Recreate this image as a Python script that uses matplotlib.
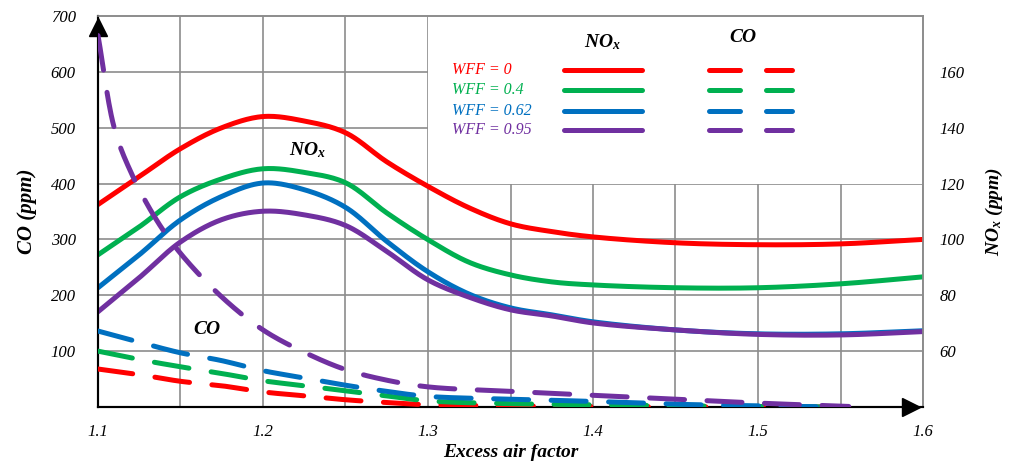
# Package Import
import numpy as np
import matplotlib
import matplotlib.pyplot as plt
from matplotlib.patches import Rectangle

# Settings
matplotlib.use('Agg')
plt.rcParams['font.family'] = 'Liberation Serif'
plt.rcParams['mathtext.fontset'] = 'custom'
plt.rcParams['mathtext.rm'] = 'Liberation Serif:italic:bold'
plt.rcParams['mathtext.it'] = 'Liberation Serif:italic:bold'

# Data
wff_labels = ['WFF = 0', 'WFF = 0.4', 'WFF = 0.62', 'WFF = 0.95']
colors = ['#FF0000', '#00B050', '#0070C0', '#7030A0']

x_ticks = [1.1, 1.2, 1.3, 1.4, 1.5, 1.6]
x_tick_labels = ['1.1', '1.2', '1.3', '1.4', '1.5', '1.6']
co_ticks = [100, 200, 300, 400, 500, 600, 700]
nox_ticks = [60, 80, 100, 120, 140, 160]

nox_x = [1.10, 1.125, 1.15, 1.175, 1.20, 1.225, 1.25, 1.275, 1.30, 1.325,
         1.35, 1.375, 1.40, 1.45, 1.50, 1.55, 1.60]
nox_wff_0 = [112.5, 122.5, 132.5, 140.0, 144.0, 142.4, 138.2, 127.8, 119.0,
             111.3, 105.6, 102.8, 100.9, 98.8, 98.1, 98.4, 100.0]
nox_wff_04 = [94.5, 104.5, 115.3, 121.7, 125.3, 124.0, 120.3, 109.5, 99.9,
              91.8, 87.3, 84.8, 83.7, 82.7, 82.7, 84.1, 86.6]
nox_wff_062 = [82.7, 94.5, 107.0, 115.4, 120.2, 117.8, 111.5, 99.3, 88.4,
               80.4, 75.5, 73.0, 70.5, 67.6, 66.2, 66.2, 67.3]
nox_wff_095 = [74.1, 86.3, 99.1, 107.1, 110.1, 108.8, 105.0, 95.7, 85.5,
               79.3, 74.8, 72.6, 70.1, 67.6, 66.0, 65.8, 67.0]

co_x = [1.10, 1.125, 1.15, 1.175, 1.20, 1.225, 1.25, 1.275, 1.30, 1.35,
        1.40, 1.45, 1.50, 1.55]
co_wff_0 = [68, 58, 46, 38, 27, 20, 13, 8, 4, 2, 1, 0.5, 0, 0]
co_wff_04 = [100, 85, 72, 60, 47, 38, 29, 20, 11, 6, 4, 2, 1, 0]
co_wff_062 = [136, 116, 97, 83, 65, 52, 39, 28, 19, 14, 10, 5, 2, 0]
co_x_095 = [1.10, 1.11, 1.12, 1.135, 1.15, 1.175, 1.20, 1.225, 1.25, 1.275,
            1.30, 1.35, 1.40, 1.45, 1.50, 1.555]
co_wff_095 = [665, 498, 420, 337, 275, 197, 138, 98, 67, 48, 36, 28, 21, 14, 7, 1]

nox_series = [nox_wff_0, nox_wff_04, nox_wff_062, nox_wff_095]
co_series = [(co_x, co_wff_0), (co_x, co_wff_04), (co_x, co_wff_062),
             (co_x_095, co_wff_095)]


# Function definitions
def smooth_line(xs, ys, xlim, ylim, n=24, alpha=0.5):

    """
    Centripetal Catmull-Rom curve through the given points, like a
    spreadsheet 'smoothed line'. Works in axes-normalised space.
    """

    sx = xlim[1] - xlim[0]
    sy = (ylim[1] - ylim[0]) * 825 / 391
    P = np.column_stack([(np.asarray(xs) - xlim[0]) / sx,
                         (np.asarray(ys) - ylim[0]) / sy])
    P = np.vstack([2 * P[0] - P[1], P, 2 * P[-1] - P[-2]])
    out = []
    for i in range(len(P) - 3):
        p0, p1, p2, p3 = P[i:i + 4]
        t0 = 0.0
        t1 = t0 + np.linalg.norm(p1 - p0) ** alpha
        t2 = t1 + np.linalg.norm(p2 - p1) ** alpha
        t3 = t2 + np.linalg.norm(p3 - p2) ** alpha
        t = np.linspace(t1, t2, n)[:, None]
        A1 = (t1 - t) / (t1 - t0) * p0 + (t - t0) / (t1 - t0) * p1
        A2 = (t2 - t) / (t2 - t1) * p1 + (t - t1) / (t2 - t1) * p2
        A3 = (t3 - t) / (t3 - t2) * p2 + (t - t2) / (t3 - t2) * p3
        B1 = (t2 - t) / (t2 - t0) * A1 + (t - t0) / (t2 - t0) * A2
        B2 = (t3 - t) / (t3 - t1) * A2 + (t - t1) / (t3 - t1) * A3
        C = (t2 - t) / (t2 - t1) * B1 + (t - t1) / (t2 - t1) * B2
        out.append(C if i == 0 else C[1:])
    C = np.vstack(out)
    return C[:, 0] * sx + xlim[0], C[:, 1] * sy + ylim[0]


# Create the figure
fig = plt.figure(figsize=(10.13, 4.65), dpi=100)
ax = fig.add_axes([98 / 1013, 58 / 465, 825 / 1013, 391 / 465])
ax2 = ax.twinx()

# NOx axis on the right, CO axis on the left
ax.yaxis.tick_right()
ax.yaxis.set_label_position('right')
ax2.yaxis.tick_left()
ax2.yaxis.set_label_position('left')

xlim = (1.1, 1.6)
nox_lim = (40, 180)
co_lim = (0, 700)
ax.set_xlim(*xlim)
ax.set_ylim(*nox_lim)
ax2.set_ylim(*co_lim)

ax.set_xticks(x_ticks)
ax.set_xticklabels(x_tick_labels)
ax.set_xticks([1.15, 1.25, 1.35, 1.45, 1.55], minor=True)
ax.set_yticks(nox_ticks)
ax2.set_yticks(co_ticks)

for lab in ax.get_xticklabels() + ax.get_yticklabels() + ax2.get_yticklabels():
    lab.set_fontstyle('italic')
    lab.set_fontsize(12)
ax.tick_params(axis='x', which='both', length=0, pad=12)
ax.tick_params(axis='y', length=0, pad=12)
ax2.tick_params(axis='y', length=0, pad=16)

# Grid
ax.set_axisbelow(True)
ax.grid(True, which='both', color='#8c8c8c', linewidth=1.2)

# Spines
for a in (ax, ax2):
    a.spines['left'].set_color('black')
    a.spines['bottom'].set_color('black')
    a.spines['left'].set_linewidth(1.5)
    a.spines['bottom'].set_linewidth(1.5)
    a.spines['top'].set_color('#8c8c8c')
    a.spines['right'].set_color('#8c8c8c')
    a.spines['top'].set_linewidth(1.2)
    a.spines['right'].set_linewidth(1.2)

# Axis arrows
ax.plot([0], [0.972], marker='^', markersize=13, color='black',
        transform=ax.transAxes, clip_on=False, zorder=6)
ax.plot([0.986], [0], marker='>', markersize=13, color='black',
        transform=ax.transAxes, clip_on=False, zorder=6)

# Legend background box
ax.add_patch(Rectangle((1.30, 120), 0.30, 60, facecolor='white',
                       edgecolor='none', zorder=1))

# NOx curves
for vals, c in zip(nox_series, colors):
    sx, sy = smooth_line(nox_x, vals, xlim, nox_lim)
    ax.plot(sx, sy, color=c, linewidth=3.6, solid_capstyle='round',
            solid_joinstyle='round', zorder=3)

# CO curves
for (xs, vals), c in zip(co_series, colors):
    sx, sy = smooth_line(xs, vals, xlim, co_lim)
    ax2.plot(sx, sy, color=c, linewidth=3.6, linestyle=(0, (7, 4.5)),
             dash_capstyle='round', zorder=3)

# Legend entries
label_font = dict(family='Liberation Serif', fontstyle='italic',
                  fontweight='bold')
row_y = [0.862, 0.811, 0.757, 0.708]
for lab, c, fy in zip(wff_labels, colors, row_y):
    ax.text(0.429, fy, lab, color=c, fontsize=11.5, fontstyle='italic',
            ha='left', va='center', transform=ax.transAxes, zorder=5)
    ax.plot([0.565, 0.659], [fy, fy], color=c, linewidth=3.6,
            solid_capstyle='round', transform=ax.transAxes, zorder=5)
    ax.plot([0.740, 0.778], [fy, fy], color=c, linewidth=3.6,
            solid_capstyle='round', transform=ax.transAxes, zorder=5)
    ax.plot([0.810, 0.841], [fy, fy], color=c, linewidth=3.6,
            solid_capstyle='round', transform=ax.transAxes, zorder=5)
ax.text(0.611, 0.934, 'NO$_x$', fontsize=14, ha='center', va='center',
        transform=ax.transAxes, zorder=5, **label_font)
ax.text(0.782, 0.944, 'CO', fontsize=14, ha='center', va='center',
        transform=ax.transAxes, zorder=5, **label_font)

# Curve annotations
ax.text(1.227, 132, 'NO$_x$', fontsize=14, ha='center', va='center',
        zorder=5, **label_font)
ax2.text(1.166, 138, 'CO', fontsize=14, ha='center', va='center',
         zorder=5, **label_font)

# Axis labels
ax.set_xlabel('Excess air factor', fontsize=14, labelpad=3, **label_font)
ax2.set_ylabel('CO (ppm)', fontsize=15, labelpad=10, **label_font)
ax.set_ylabel('NO$_x$ (ppm)', fontsize=14, labelpad=14, rotation=90,
              **label_font)

fig.savefig('out.png', dpi=100)
plt.close()
